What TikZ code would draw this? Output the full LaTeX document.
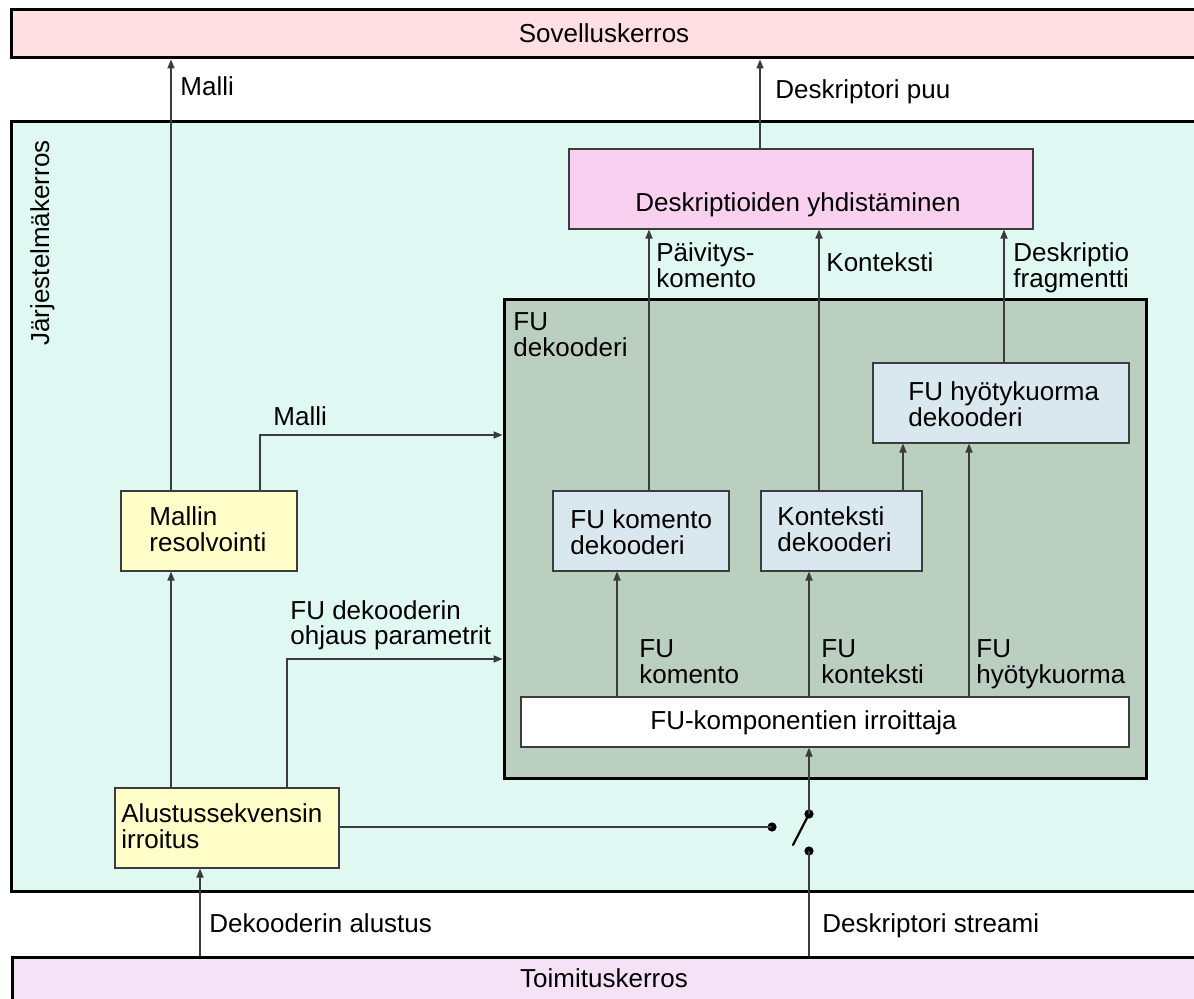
\documentclass[tikz,border=0pt]{standalone}
\usepackage{fontspec}
\setmainfont{Liberation Sans}
\usetikzlibrary{arrows.meta,fit}
\definecolor{sovC}{RGB}{255,222,228}
\definecolor{sysC}{RGB}{224,248,242}
\definecolor{toiC}{RGB}{245,226,247}
\definecolor{desC}{RGB}{250,208,240}
\definecolor{fudC}{RGB}{187,207,193}
\definecolor{bluC}{RGB}{217,232,238}
\definecolor{yelC}{RGB}{255,253,200}
\definecolor{lnC}{RGB}{60,60,60}
\begin{document}
\begin{tikzpicture}[x=0.5pt,y=-0.5pt,
  layer/.style={draw=black,line width=1.5pt,inner sep=0pt,outer sep=0.75pt},
  box/.style={draw=lnC,line width=0.65pt,inner sep=0pt,outer sep=0.3pt},
  txt/.style={inner sep=0pt,anchor=base west,align=left,font=\fontsize{13}{13}\selectfont},
  ctxt/.style={inner sep=0pt,anchor=base,font=\fontsize{13}{13}\selectfont},
  arr/.style={draw=lnC,line width=0.6pt,-{Triangle[length=4.5pt,width=3.6pt]}},
  ln/.style={draw=lnC,line width=0.6pt},
  dot/.style={circle,fill=black,inner sep=0pt,minimum size=4.6pt}
]
\useasboundingbox (0,0) rectangle (1194,999);
\clip (0,0) rectangle (1194,999);
\fill[white] (0,0) rectangle (1194,999);

% layers
\node[layer,fill=sovC,fit={(11,10)(1210,58)}] (sov) {};
\node[layer,fill=sysC,fit={(11,122)(1210,891)}] (sys) {};
\node[layer,fill=toiC,fit={(12,957)(1210,1012)}] (toi) {};

% boxes
\node[box,fill=desC,fit={(569,149)(1033,229)}] (des) {};
\node[layer,fill=fudC,fit={(504,300)(1146,778)}] (fud) {};
\node[box,fill=bluC,fit={(873,363)(1129,443)}] (hyd) {};
\node[box,fill=bluC,fit={(553,491)(729,571)}] (kod) {};
\node[box,fill=bluC,fit={(761,491)(922,571)}] (ktd) {};
\node[box,fill=white,fit={(521,697)(1129,747)}] (irr) {};
\node[box,fill=yelC,fit={(121,491)(297,571)}] (mr) {};
\node[box,fill=yelC,fit={(115,788)(339,868)}] (as) {};

% helper coordinates
\coordinate (c171) at (171,0);
\coordinate (c200) at (200,0);
\coordinate (c260) at (260,0);
\coordinate (c287) at (287,0);
\coordinate (c617) at (617,0);
\coordinate (c649) at (649,0);
\coordinate (c760) at (760,0);
\coordinate (c809) at (809,0);
\coordinate (c819) at (819,0);
\coordinate (c903) at (903,0);
\coordinate (c969) at (969,0);
\coordinate (c1004) at (1004,0);
\coordinate (y435) at (0,435);
\coordinate (y659) at (0,659);
\coordinate (y827) at (0,827);

% switch
\node[dot] (swA) at (809,814) {};
\node[dot] (swB) at (809,851) {};
\node[dot] (swC) at (772,827) {};
\coordinate (blade) at (793,845);

% connectors
\draw[arr] (as.north -| c171) -- (mr.south -| c171);
\draw[arr] (mr.north -| c171) -- (sov.south -| c171);
\draw[arr] (mr.north -| c260) |- (fud.west |- y435);
\draw[arr] (as.north -| c287) |- (fud.west |- y659);
\draw[arr] (toi.north -| c200) -- (as.south -| c200);
\draw[ln] (as.east |- y827) -- (swC.center);
\draw[black,line width=1.1pt,line cap=round] (swA.center) -- (blade);
\draw[arr] (swA.center) -- (irr.south -| swA);
\draw[ln] (toi.north -| swB) -- (swB.center);

\draw[arr] (kod.north -| c649) -- (des.south -| c649);
\draw[arr] (ktd.north -| c819) -- (des.south -| c819);
\draw[arr] (hyd.north -| c1004) -- (des.south -| c1004);
\draw[arr] (ktd.north -| c903) -- (hyd.south -| c903);
\draw[arr] (irr.north -| c617) -- (kod.south -| c617);
\draw[arr] (irr.north -| c809) -- (ktd.south -| c809);
\draw[arr] (irr.north -| c969) -- (hyd.south -| c969);
\draw[arr] (des.north -| c760) -- (sov.south -| c760);

% texts (base anchor = baseline of last line)
\node[ctxt] (tsov) at (604,43) {Sovelluskerros};
\node[ctxt] (ttoi) at (604,987) {Toimituskerros};
\node[txt,rotate=90,anchor=base east] (tsys) at (49,140) {Järjestelmäkerros};
\node[txt] (tdes) at (635,212) {Deskriptioiden yhdistäminen};
\node[txt] (tfud) at (513,357) {FU\\dekooderi};
\node[txt] (thyd) at (908,427) {FU hyötykuorma\\dekooderi};
\node[txt] (tkod) at (570,555) {FU komento\\dekooderi};
\node[txt] (tktd) at (777,552) {Konteksti\\dekooderi};
\node[txt] (tirr) at (650,729) {FU-komponentien irroittaja};
\node[txt] (tmr) at (149,552) {Mallin\\resolvointi};
\node[txt] (tas) at (121,848) {Alustussekvensin\\irroitus};

\node[txt] (l1) at (180,96) {Malli};
\node[txt] (l2) at (775,99) {Deskriptori puu};
\node[txt] (l3) at (656,288) {Päivitys-\\komento};
\node[txt] (l4) at (826,272) {Konteksti};
\node[txt] (l5) at (1013,288) {Deskriptio\\fragmentti};
\node[txt] (l6) at (273,426) {Malli};
\node[txt] (l7) at (290,645) {FU dekooderin\\ohjaus parametrit};
\node[txt] (l8) at (639,683) {FU\\komento};
\node[txt] (l9) at (821,683) {FU\\konteksti};
\node[txt] (l10) at (976,683) {FU\\hyötykuorma};
\node[txt] (l11) at (209,932) {Dekooderin alustus};
\node[txt] (l12) at (822,932) {Deskriptori streami};
\end{tikzpicture}
\end{document}
